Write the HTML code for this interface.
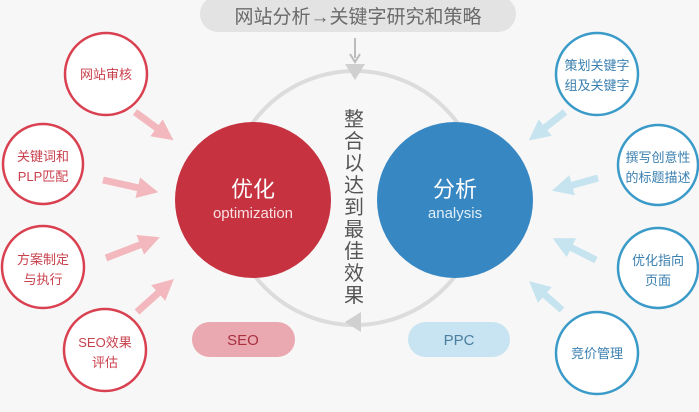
<!DOCTYPE html>
<html><head><meta charset="utf-8"><style>
html,body{margin:0;padding:0;background:#f7f7f7;}
svg text{font-family:"Liberation Sans","Noto Sans CJK SC",sans-serif;}
</style></head><body>
<svg width="699" height="407" viewBox="0 0 699 407" xmlns="http://www.w3.org/2000/svg">
<defs>
<marker id="pa" markerWidth="3" markerHeight="3" refX="1.5" refY="1.5" orient="auto"><path d="M0,0 L3,1.5 L0,3 z" fill="#f2b8be"/></marker>
<marker id="ba" markerWidth="3" markerHeight="3" refX="1.5" refY="1.5" orient="auto"><path d="M0,0 L3,1.5 L0,3 z" fill="#c6e4ef"/></marker>
</defs>
<rect width="699" height="407" fill="#f7f7f7"/>
<rect x="200" y="-4" width="316" height="36" rx="18" fill="#e3e3e3"/>
<text x="358" y="23" font-size="19" fill="#6a6a6a" text-anchor="middle">网站分析→关键字研究和策略</text>
<line x1="355" y1="38" x2="355" y2="58" stroke="#bbb" stroke-width="2"/>
<path d="M350,54 L355,62 L360,54" fill="none" stroke="#bbb" stroke-width="2"/>
<circle cx="355" cy="198" r="127" fill="none" stroke="#dcdcdc" stroke-width="4"/>
<path d="M345,64 L365,64 L355,80 z" fill="#d0d0d0"/>
<path d="M361,312 L361,332 L345,322 z" fill="#d0d0d0"/>
<g stroke-width="7" fill="none">
<line x1="135" y1="112" x2="165" y2="134" stroke="#f2b8be" marker-end="url(#pa)"/>
<line x1="103" y1="180" x2="148" y2="190" stroke="#f2b8be" marker-end="url(#pa)"/>
<line x1="106" y1="258" x2="150" y2="241" stroke="#f2b8be" marker-end="url(#pa)"/>
<line x1="137" y1="312" x2="166" y2="286" stroke="#f2b8be" marker-end="url(#pa)"/>
<line x1="565" y1="112" x2="537" y2="134" stroke="#c6e4ef" marker-end="url(#ba)"/>
<line x1="598" y1="178" x2="562" y2="188" stroke="#c6e4ef" marker-end="url(#ba)"/>
<line x1="596" y1="260" x2="562" y2="243" stroke="#c6e4ef" marker-end="url(#ba)"/>
<line x1="562" y1="310" x2="537" y2="288" stroke="#c6e4ef" marker-end="url(#ba)"/>
</g>
<circle cx="253" cy="200" r="78" fill="#c6323f"/>
<text x="253" y="197" font-size="22" fill="#fff" text-anchor="middle">优化</text>
<text x="253" y="218" font-size="15" fill="#fbe0e3" text-anchor="middle">optimization</text>
<circle cx="455" cy="200" r="78" fill="#3787c2"/>
<text x="455" y="197" font-size="22" fill="#fff" text-anchor="middle">分析</text>
<text x="455" y="218" font-size="15" fill="#e0eef8" text-anchor="middle">analysis</text>
<g font-size="20" fill="#555" text-anchor="middle">
<text x="354" y="126">整</text><text x="354" y="148">合</text><text x="354" y="170">以</text><text x="354" y="192">达</text><text x="354" y="214">到</text><text x="354" y="236">最</text><text x="354" y="258">佳</text><text x="354" y="280">效</text><text x="354" y="302">果</text>
</g>
<g fill="#fff" stroke="#d94050" stroke-width="2.5">
<circle cx="106" cy="74" r="41"/><circle cx="43" cy="164" r="40"/><circle cx="43" cy="267" r="41"/><circle cx="105" cy="350" r="41"/>
</g>
<g font-size="13" fill="#c8404c" text-anchor="middle">
<text x="106" y="79">网站审核</text>
<text x="43" y="161">关键词和</text><text x="43" y="181">PLP匹配</text>
<text x="43" y="264">方案制定</text><text x="43" y="284">与执行</text>
<text x="105" y="347">SEO效果</text><text x="105" y="367">评估</text>
</g>
<g fill="#fff" stroke="#3a9ac8" stroke-width="2.5">
<circle cx="597" cy="74" r="41"/><circle cx="658" cy="165" r="40"/><circle cx="658" cy="268" r="40"/><circle cx="597" cy="353" r="41"/>
</g>
<g font-size="13" fill="#3a7fb0" text-anchor="middle">
<text x="597" y="70">策划关键字</text><text x="597" y="90">组及关键字</text>
<text x="658" y="162">撰写创意性</text><text x="658" y="182">的标题描述</text>
<text x="658" y="265">优化指向</text><text x="658" y="285">页面</text>
<text x="597" y="358">竞价管理</text>
</g>
<rect x="192" y="322" width="103" height="35" rx="17.5" fill="#eaa9b0"/>
<text x="243" y="345" font-size="15" fill="#a83040" text-anchor="middle">SEO</text>
<rect x="408" y="322" width="102" height="35" rx="17.5" fill="#c8e3f1"/>
<text x="459" y="345" font-size="15" fill="#4a7fa0" text-anchor="middle">PPC</text>
</svg>
</body></html>
